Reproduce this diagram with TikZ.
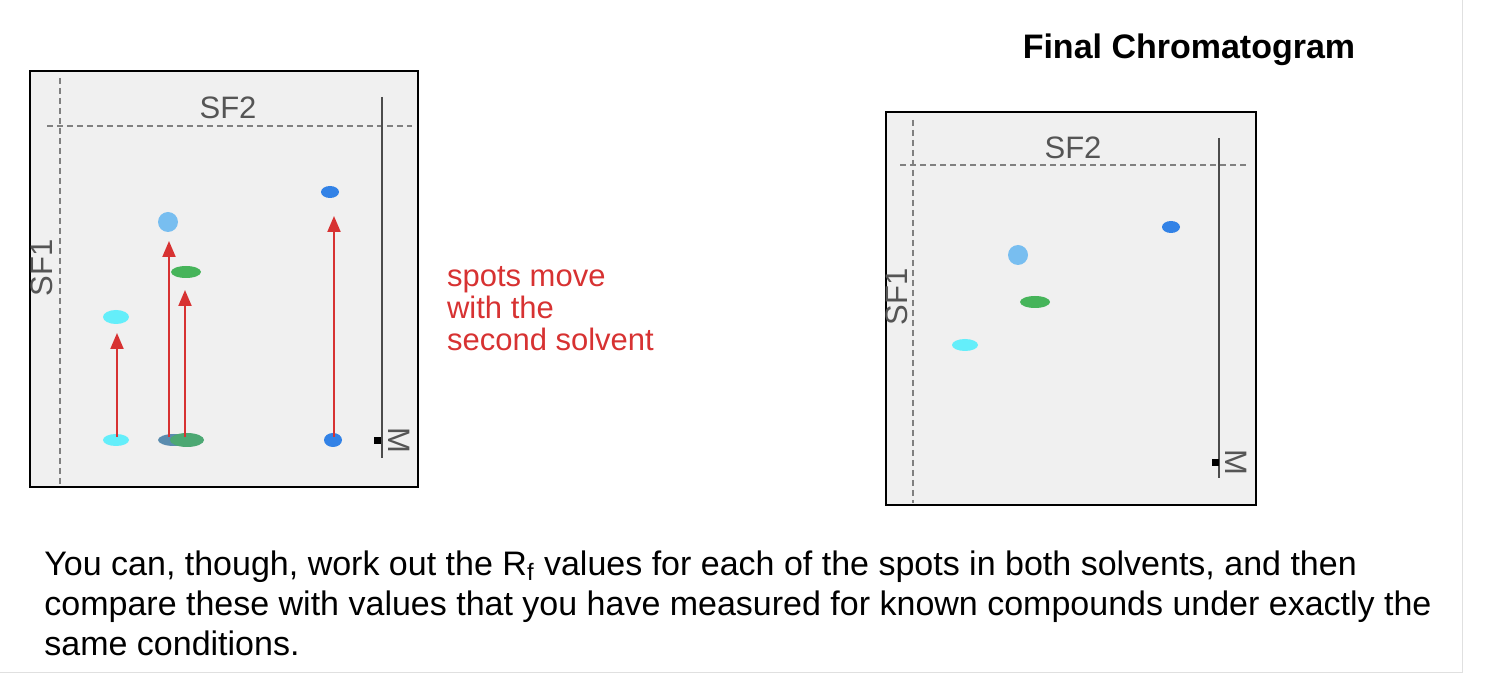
\documentclass[tikz,border=0pt]{standalone}
\usepackage{fontspec}
\setmainfont{Liberation Sans}
\usetikzlibrary{arrows.meta,shapes.geometric}
\definecolor{panel}{RGB}{240,240,240}
\definecolor{cyanspot}{RGB}{100,238,250}
\definecolor{lbspot}{RGB}{120,190,240}
\definecolor{grspot}{RGB}{70,180,90}
\definecolor{blspot}{RGB}{50,130,230}
\definecolor{bgspot}{RGB}{90,140,175}
\definecolor{arr}{RGB}{215,50,50}
\definecolor{lbl}{RGB}{85,85,85}
\begin{document}
\begin{tikzpicture}[x=0.5pt,y=-0.5pt,
  panelbox/.style={draw=black,line width=0.9pt,fill=panel},
  dashln/.style={draw=gray,line width=0.9pt,dash pattern=on 3pt off 2pt},
  spot/.style={ellipse,inner sep=0pt,draw=none},
  lab/.style={font=\fontsize{15.5}{15.5}\selectfont,text=lbl},
  mv/.style={draw=arr,line width=1pt,-{Triangle[length=8pt,width=6.5pt]}}]
\useasboundingbox (0,0) rectangle (1490,678);
\draw[black!12] (1462,0) -- (1462,672) -- (0,672);
% title
\node[font=\bfseries\fontsize{17}{17}\selectfont] (title) at (1189,50) {Final Chromatogram};
% ---- left panel
\path[panelbox] (30,71) rectangle (418,487);
\draw[dashln] (60,78) -- (60,485);
\draw[dashln] (47,126) -- (412,126);
\node[lab] (sf2a) at (228,108) {SF2};
\node[lab,rotate=90] (sf1a) at (42,268) {SF1};
\draw[black!70,line width=0.9pt] (382,97) -- (382,458);
\node[fill=black,inner sep=0pt,minimum size=3.5pt] (sqa) at (377,441) {};
\node[lab,rotate=-90] (ma) at (399,440) {M};
\node[spot,fill=cyanspot,minimum width=13pt,minimum height=6pt] (c0) at (116,440) {};
\node[spot,fill=cyanspot,minimum width=13pt,minimum height=7pt] (c1) at (116,317) {};
\node[spot,fill=lbspot,minimum width=10pt,minimum height=10pt] (l1) at (168,222) {};
\node[spot,fill=grspot,minimum width=15pt,minimum height=6pt] (g1) at (186,272) {};
\node[spot,fill=blspot,minimum width=9pt,minimum height=6pt] (b1) at (330,192) {};
\node[spot,fill=bgspot,minimum width=16pt,minimum height=6pt] (l0) at (174,440) {};
\node[spot,fill=grspot!70!bgspot,minimum width=17pt,minimum height=7pt] (g0) at (187,440) {};
\node[spot,fill=blspot,minimum width=9pt,minimum height=7pt] (b0) at (333,440) {};
\coordinate (ac) at (117,333); \coordinate (ac0) at (117,437);
\coordinate (al) at (169,241); \coordinate (al0) at (169,437);
\coordinate (ag) at (185,290); \coordinate (ag0) at (185,437);
\coordinate (ab) at (334,216); \coordinate (ab0) at (334,437);
\draw[mv] (ac0) -- (ac);
\draw[mv] (al0) -- (al);
\draw[mv] (ag0) -- (ag);
\draw[mv] (ab0) -- (ab);
\node[anchor=west,align=left,text=arr,font=\fontsize{15.5}{16}\selectfont] (note) at (440,309) {spots move\\with the\\second solvent};
% ---- right panel
\path[panelbox] (886,112) rectangle (1256,505);
\draw[dashln] (913,120) -- (913,503);
\draw[dashln] (900,165) -- (1248,165);
\node[lab] (sf2b) at (1073,148) {SF2};
\node[lab,rotate=90] (sf1b) at (897,297) {SF1};
\draw[black!70,line width=0.9pt] (1219,138) -- (1219,478);
\node[fill=black,inner sep=0pt,minimum size=3.5pt] (sqb) at (1215,463) {};
\node[lab,rotate=-90] (mb) at (1236,462) {M};
\node[spot,fill=blspot,minimum width=9pt,minimum height=6pt] (b2) at (1171,227) {};
\node[spot,fill=lbspot,minimum width=10pt,minimum height=10pt] (l2) at (1018,255) {};
\node[spot,fill=grspot,minimum width=15pt,minimum height=6pt] (g2) at (1035,302) {};
\node[spot,fill=cyanspot,minimum width=13pt,minimum height=6pt] (c2) at (965,345) {};
% ---- bottom text
\node[anchor=north west,align=left,inner sep=0pt,font=\fontsize{17}{20}\selectfont] (txt) at (44,550)
 {You can, though, work out the R\textsubscript{f} values for each of the spots in both solvents, and then\\
  compare these with values that you have measured for known compounds under exactly the\\
  same conditions.};
\end{tikzpicture}
\end{document}
